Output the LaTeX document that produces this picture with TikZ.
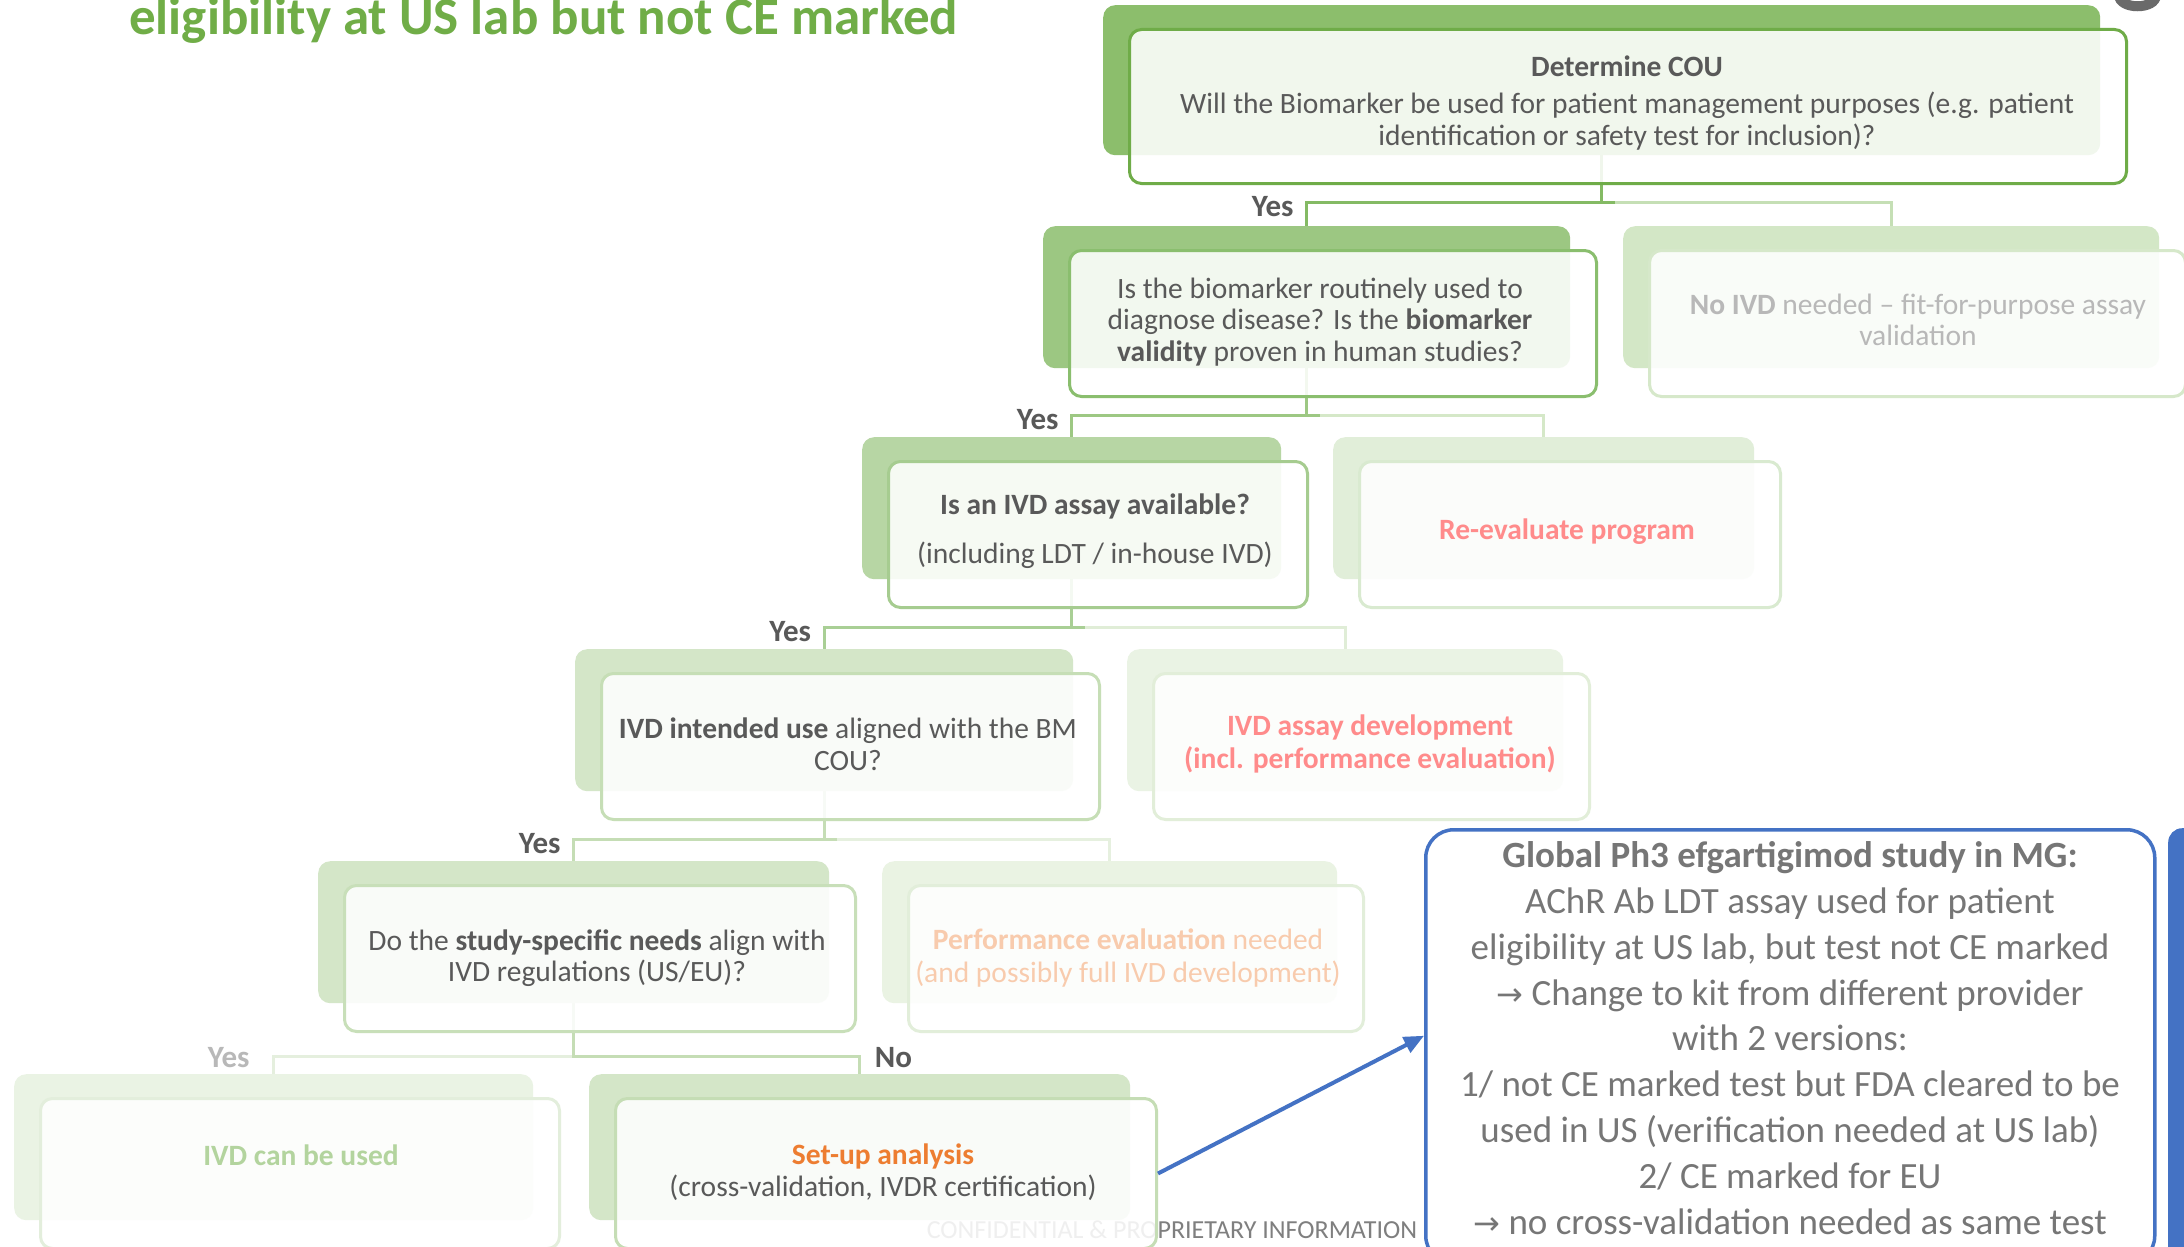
\documentclass[tikz,border=0pt]{standalone}
\usepackage{fontspec}
\setmainfont{Carlito}
\newfontfamily\symbolfont{DejaVu Sans}
\usetikzlibrary{arrows.meta,calc,backgrounds}

% text colours
\definecolor{txtdark}{HTML}{595959}
\definecolor{txtlight}{HTML}{B8B8B8}
\definecolor{txtpink}{HTML}{FF8B8B}
\definecolor{txtpeach}{HTML}{F8CBAD}
\definecolor{txtgreen}{HTML}{B3D49E}
\definecolor{txtorange}{HTML}{ED7D31}
\definecolor{txtblue}{HTML}{767676}
\definecolor{titlegreen}{HTML}{70AD47}
\definecolor{footgray}{HTML}{7F7F7F}
\definecolor{accentblue}{HTML}{4472C4}
% box colours: back fill / front outline
\definecolor{l1back}{HTML}{8CBE6C}\definecolor{l1line}{HTML}{6FAC48}
\definecolor{l2lback}{HTML}{9CC782}\definecolor{l2lline}{HTML}{8ABE6E}
\definecolor{l2rback}{HTML}{D3E7C6}\definecolor{l2rline}{HTML}{D6E8CA}
\definecolor{l3lback}{HTML}{B7D6A4}\definecolor{l3lline}{HTML}{A6CC90}
\definecolor{l3rback}{HTML}{E1EED9}\definecolor{l3rline}{HTML}{D9EAD0}
\definecolor{l4lback}{HTML}{D4E6C8}\definecolor{l4lline}{HTML}{C6DEB6}
\definecolor{l4rback}{HTML}{EAF3E4}\definecolor{l4rline}{HTML}{E2EED9}
\definecolor{l5lback}{HTML}{D4E6C8}\definecolor{l5lline}{HTML}{C8DFB9}
\definecolor{l5rback}{HTML}{EAF3E3}\definecolor{l5rline}{HTML}{E2EEDA}
\definecolor{l6lback}{HTML}{EAF3E4}\definecolor{l6lline}{HTML}{E3EEDC}
\definecolor{l6rback}{HTML}{D4E6C8}\definecolor{l6rline}{HTML}{C5DDB5}
% connector colours
\definecolor{c1yes}{HTML}{84BA64}\definecolor{c1no}{HTML}{C5DFB5}
\definecolor{c2yes}{HTML}{9DC883}\definecolor{c2no}{HTML}{D5E8C8}
\definecolor{c3yes}{HTML}{A9CF95}\definecolor{c3no}{HTML}{E0EDD7}
\definecolor{c4yes}{HTML}{C5DDB5}\definecolor{c4no}{HTML}{E6F0DF}
\definecolor{c5yes}{HTML}{E5EFDE}\definecolor{c5no}{HTML}{C5DDB5}

\tikzset{
  backbox/.style={draw=none, rounded corners=12pt, anchor=north west, inner sep=0pt},
  frontbox/.style={fill=white, fill opacity=0.88, line width=3pt, rounded corners=12pt, anchor=north west, inner sep=0pt},
  boxtext/.style={font=\fontsize{29.5}{31.5}\selectfont, text=txtdark, align=center, inner sep=0pt},
  yeslabel/.style={font=\fontsize{31}{34}\selectfont\bfseries, text=txtdark, inner sep=0pt},
  conn/.style={line width=3pt},
}

% a decision box: a solid back card with a lighter outlined card on top
\newcommand\flowbox[7]{%
  \node[backbox, fill=#6, minimum width=#4pt, minimum height=#5pt] (#1-b) at (#2,#3) {};
  \node[frontbox, draw=#7, minimum width=#4pt, minimum height=#5pt+4pt] (#1) at (#2+25,#3+23) {};
}

\begin{document}
\begin{tikzpicture}[x=1pt,y=-1pt]
\useasboundingbox (0,0) rectangle (2184,1247);
\clip (0,0) rectangle (2184,1247);

% heading fragment and logo fragment
\node[anchor=base west, inner sep=0pt, font=\fontsize{53}{60}\selectfont\bfseries, text=titlegreen] (title) at (129,35) {eligibility at US lab but not CE marked};
\draw[line width=10pt, color=txtdark!90] (2119,-5) .. controls (2119,10) and (2156,10) .. (2156,-5);

% decision boxes
\flowbox{l1}{1103}{5}{997}{150}{l1back}{l1line}
\flowbox{l2l}{1043}{226}{527}{142}{l2lback}{l2lline}
\flowbox{l2r}{1623}{226}{536}{142}{l2rback}{l2rline}
\flowbox{l3l}{862}{437}{419}{142}{l3lback}{l3lline}
\flowbox{l3r}{1333}{437}{421}{142}{l3rback}{l3rline}
\flowbox{l4l}{575}{649}{498}{142}{l4lback}{l4lline}
\flowbox{l4r}{1127}{649}{436}{142}{l4rback}{l4rline}
\flowbox{l5l}{318}{861}{511}{142}{l5lback}{l5lline}
\flowbox{l5r}{882}{861}{455}{142}{l5rback}{l5rline}
\flowbox{l6l}{14}{1074}{519}{146}{l6lback}{l6lline}
\flowbox{l6r}{589}{1074}{541}{146}{l6rback}{l6rline}

% box texts
\node[boxtext] (t1) at (1627,103) {\textbf{Determine COU}\\[6pt]Will the Biomarker be used for patient management purposes (e.g. patient\\identification or safety test for inclusion)?};
\node[boxtext] (t2l) at (1320,322) {Is the biomarker routinely used to\\diagnose disease? Is the \textbf{biomarker}\\\textbf{validity} proven in human studies?};
\node[boxtext, text=txtlight] (t2r) at (1918,320) {\textbf{No IVD} needed -- fit-for-purpose assay\\validation};
\node[boxtext] (t3l) at (1095,531) {\textbf{Is an IVD assay available?}\\[17pt](including LDT / in-house IVD)};
\node[boxtext, text=txtpink, font=\fontsize{29.5}{31.5}\selectfont\bfseries] (t3r) at (1567,532) {Re-evaluate program};
\node[boxtext] (t4l) at (848,744) {\textbf{IVD intended use} aligned with the BM\\COU?};
\node[boxtext, text=txtpink, font=\fontsize{29.5}{33}\selectfont\bfseries] (t4r) at (1370,744) {IVD assay development\\(incl. performance evaluation)};
\node[boxtext] (t5l) at (597,958) {Do the \textbf{study-specific needs} align with\\IVD regulations (US/EU)?};
\node[boxtext, text=txtpeach, font=\fontsize{29.5}{33}\selectfont] (t5r) at (1128,958) {\textbf{Performance evaluation} needed\\(and possibly full IVD development)};
\node[boxtext, text=txtgreen, font=\fontsize{29.5}{31.5}\selectfont\bfseries] (t6l) at (301,1155) {IVD can be used};
\node[boxtext, font=\fontsize{29.5}{32}\selectfont] (t6r) at (883,1172) {\textcolor{txtorange}{\textbf{Set-up analysis}}\\(cross-validation, IVDR certification)};

% case study call-out
\node[draw=accentblue, line width=3.5pt, rounded corners=28pt, anchor=north west, inner sep=0pt, minimum width=729pt, minimum height=434pt] (blue) at (1424,828) {};
\node[fill=accentblue, rounded corners=14pt, anchor=north west, inner sep=0pt, minimum width=60pt, minimum height=434pt] (bar) at (2168,828) {};
\node[inner sep=0pt, align=center, text=txtblue, font=\fontsize{37}{45.8}\selectfont] (case) at (1790,1038) {\textbf{Global Ph3 efgartigimod study in MG:}\\AChR Ab LDT assay used for patient\\eligibility at US lab, but test not CE marked\\{\symbolfont\fontsize{32}{34}\selectfont →} Change to kit from different provider\\with 2 versions:\\1/ not CE marked test but FDA cleared to be\\used in US (verification needed at US lab)\\2/ CE marked for EU\\{\symbolfont\fontsize{32}{34}\selectfont →} no cross-validation needed as same test};
\draw[accentblue, line width=4pt, -{Triangle[length=20pt,width=17pt]}] (l6r.east) -- ($(blue.west)+(0,-11)$);

% branch labels
\coordinate (h1) at (0,202);
\coordinate (h2) at (0,415);
\coordinate (h3) at (0,627);
\coordinate (h4) at (0,839);
\coordinate (h5) at (0,1056);
\node[yeslabel, anchor=base east] (y1) at ($(l2l-b.north |- h1)+(-13,14)$) {Yes};
\node[yeslabel, anchor=base east] (y2) at ($(l3l-b.north |- h2)+(-13,14)$) {Yes};
\node[yeslabel, anchor=base east] (y3) at ($(l4l-b.north |- h3)+(-13,14)$) {Yes};
\node[yeslabel, anchor=base east] (y4) at ($(l5l-b.north |- h4)+(-13,14)$) {Yes};
\node[yeslabel, anchor=base east, text=txtlight] (y5) at ($(l6l-b.north |- h5)+(-24,11)$) {Yes};
\node[yeslabel, anchor=base west] (n5) at ($(l6r-b.north |- h5)+(15,11)$) {No};

\begin{pgfonlayer}{background}
  \fill[white] (0,0) rectangle (2184,1247);
  \node[anchor=center, inner sep=0pt, font=\fontsize{26}{30}\selectfont, text=footgray] (footer) at (1172,1230) {CONFIDENTIAL \& PROPRIETARY INFORMATION};
  % level 1 -> 2
  \draw[conn, c1no] (l1-b.south |- h1) -| (l2r-b.north);
  \draw[conn, c1yes] (l1-b.south) -- (l1-b.south |- h1);
  \draw[conn, c1yes] ($(l1-b.south |- h1)+(13,0)$) -| (l2l-b.north);
  % level 2 -> 3
  \draw[conn, c2no] (l2l-b.south |- h2) -| (l3r-b.north);
  \draw[conn, c2yes] (l2l-b.south) -- (l2l-b.south |- h2);
  \draw[conn, c2yes] ($(l2l-b.south |- h2)+(13,0)$) -| (l3l-b.north);
  % level 3 -> 4
  \draw[conn, c3no] (l3l-b.south |- h3) -| (l4r-b.north);
  \draw[conn, c3yes] (l3l-b.south) -- (l3l-b.south |- h3);
  \draw[conn, c3yes] ($(l3l-b.south |- h3)+(13,0)$) -| (l4l-b.north);
  % level 4 -> 5
  \draw[conn, c4no] (l4l-b.south |- h4) -| (l5r-b.north);
  \draw[conn, c4yes] (l4l-b.south) -- (l4l-b.south |- h4);
  \draw[conn, c4yes] ($(l4l-b.south |- h4)+(13,0)$) -| (l5l-b.north);
  % level 5 -> 6
  \draw[conn, c5yes] (l5l-b.south |- h5) -| (l6l-b.north);
  \draw[conn, c5no] (l5l-b.south) -- (l5l-b.south |- h5) -| (l6r-b.north);
\end{pgfonlayer}
\end{tikzpicture}
\end{document}
